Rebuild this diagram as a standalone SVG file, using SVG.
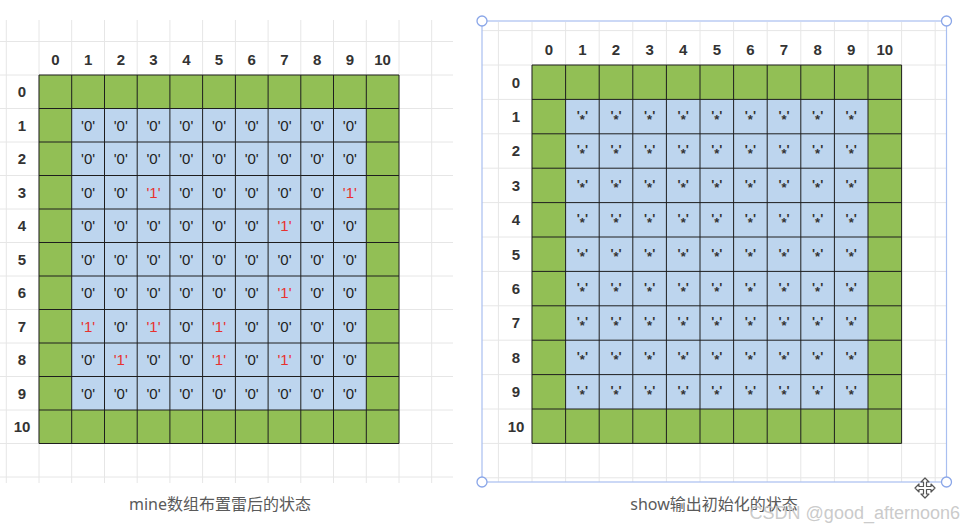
<svg xmlns="http://www.w3.org/2000/svg" width="962" height="530" viewBox="0 0 962 530">
<style>
.bg{stroke:#e6e6e6;stroke-width:1;fill:none}
.gl{stroke:#1e1e1e;stroke-width:1;fill:none}
.hd{font-family:"Liberation Sans","Noto Sans",Arial,sans-serif;font-size:15px;font-weight:bold;fill:#333;text-anchor:middle}
.z{font-family:"Liberation Sans","Noto Sans",Arial,sans-serif;font-size:15px;fill:#222;text-anchor:middle}
.r{fill:#e8312f}
.s{font-family:"Liberation Sans","Noto Sans",Arial,sans-serif;font-size:13px;font-weight:bold;fill:#333;text-anchor:middle}
.cap{font-family:"Noto Sans","Noto Sans CJK SC",sans-serif;font-size:16px;fill:#5a5a5a;text-anchor:middle}
.green{fill:#92bf55}
.blue{fill:#bdd5ee}
</style>
<defs>
<text id="st" class="s">'<tspan dy="3.5">*</tspan><tspan dy="-3.5">'</tspan></text>
</defs>
<rect width="962" height="530" fill="#ffffff"/>
<g id="left-board">
<path class="bg" d="M6.3 20V483M39 20V483M71.7 20V483M104.5 20V483M137.2 20V483M169.9 20V483M202.6 20V483M235.4 20V483M268.1 20V483M300.8 20V483M333.5 20V483M366.3 20V483M399 20V483M431.7 20V483M0 41.5H453M0 75H453M0 108.5H453M0 142H453M0 175.5H453M0 209H453M0 242.5H453M0 276H453M0 309.5H453M0 343H453M0 376.5H453M0 410H453M0 443.5H453M0 477H453"/>
<rect class="green" x="39" y="75" width="360" height="368.5"/>
<rect class="blue" x="71.7" y="108.5" width="294.6" height="301.5"/>
<path class="gl" d="M39 75V443.5M71.7 75V443.5M104.5 75V443.5M137.2 75V443.5M169.9 75V443.5M202.6 75V443.5M235.4 75V443.5M268.1 75V443.5M300.8 75V443.5M333.5 75V443.5M366.3 75V443.5M399 75V443.5M39 75H399M39 108.5H399M39 142H399M39 175.5H399M39 209H399M39 242.5H399M39 276H399M39 309.5H399M39 343H399M39 376.5H399M39 410H399M39 443.5H399"/>
<g id="left-col-labels" class="hd">
<text x="55.4" y="64.5">0</text><text x="88.1" y="64.5">1</text><text x="120.8" y="64.5">2</text><text x="153.5" y="64.5">3</text><text x="186.3" y="64.5">4</text><text x="219" y="64.5">5</text><text x="251.7" y="64.5">6</text><text x="284.5" y="64.5">7</text><text x="317.2" y="64.5">8</text><text x="349.9" y="64.5">9</text><text x="382.6" y="64.5">10</text>
</g>
<g id="left-row-labels" class="hd">
<text x="22" y="97">0</text><text x="22" y="130.5">1</text><text x="22" y="164">2</text><text x="22" y="197.5">3</text><text x="22" y="231">4</text><text x="22" y="264.5">5</text><text x="22" y="298">6</text><text x="22" y="331.5">7</text><text x="22" y="365">8</text><text x="22" y="398.5">9</text><text x="22" y="432">10</text>
</g>
<g id="left-cells" class="z">
<text x="88.1" y="130.5">'0'</text><text x="120.8" y="130.5">'0'</text><text x="153.5" y="130.5">'0'</text><text x="186.3" y="130.5">'0'</text><text x="219" y="130.5">'0'</text><text x="251.7" y="130.5">'0'</text><text x="284.5" y="130.5">'0'</text><text x="317.2" y="130.5">'0'</text><text x="349.9" y="130.5">'0'</text>
<text x="88.1" y="164">'0'</text><text x="120.8" y="164">'0'</text><text x="153.5" y="164">'0'</text><text x="186.3" y="164">'0'</text><text x="219" y="164">'0'</text><text x="251.7" y="164">'0'</text><text x="284.5" y="164">'0'</text><text x="317.2" y="164">'0'</text><text x="349.9" y="164">'0'</text>
<text x="88.1" y="197.5">'0'</text><text x="120.8" y="197.5">'0'</text><text class="r" x="153.5" y="197.5">'1'</text><text x="186.3" y="197.5">'0'</text><text x="219" y="197.5">'0'</text><text x="251.7" y="197.5">'0'</text><text x="284.5" y="197.5">'0'</text><text x="317.2" y="197.5">'0'</text><text class="r" x="349.9" y="197.5">'1'</text>
<text x="88.1" y="231">'0'</text><text x="120.8" y="231">'0'</text><text x="153.5" y="231">'0'</text><text x="186.3" y="231">'0'</text><text x="219" y="231">'0'</text><text x="251.7" y="231">'0'</text><text class="r" x="284.5" y="231">'1'</text><text x="317.2" y="231">'0'</text><text x="349.9" y="231">'0'</text>
<text x="88.1" y="264.5">'0'</text><text x="120.8" y="264.5">'0'</text><text x="153.5" y="264.5">'0'</text><text x="186.3" y="264.5">'0'</text><text x="219" y="264.5">'0'</text><text x="251.7" y="264.5">'0'</text><text x="284.5" y="264.5">'0'</text><text x="317.2" y="264.5">'0'</text><text x="349.9" y="264.5">'0'</text>
<text x="88.1" y="298">'0'</text><text x="120.8" y="298">'0'</text><text x="153.5" y="298">'0'</text><text x="186.3" y="298">'0'</text><text x="219" y="298">'0'</text><text x="251.7" y="298">'0'</text><text class="r" x="284.5" y="298">'1'</text><text x="317.2" y="298">'0'</text><text x="349.9" y="298">'0'</text>
<text class="r" x="88.1" y="331.5">'1'</text><text x="120.8" y="331.5">'0'</text><text class="r" x="153.5" y="331.5">'1'</text><text x="186.3" y="331.5">'0'</text><text class="r" x="219" y="331.5">'1'</text><text x="251.7" y="331.5">'0'</text><text x="284.5" y="331.5">'0'</text><text x="317.2" y="331.5">'0'</text><text x="349.9" y="331.5">'0'</text>
<text x="88.1" y="365">'0'</text><text class="r" x="120.8" y="365">'1'</text><text x="153.5" y="365">'0'</text><text x="186.3" y="365">'0'</text><text class="r" x="219" y="365">'1'</text><text x="251.7" y="365">'0'</text><text class="r" x="284.5" y="365">'1'</text><text x="317.2" y="365">'0'</text><text x="349.9" y="365">'0'</text>
<text x="88.1" y="398.5">'0'</text><text x="120.8" y="398.5">'0'</text><text x="153.5" y="398.5">'0'</text><text x="186.3" y="398.5">'0'</text><text x="219" y="398.5">'0'</text><text x="251.7" y="398.5">'0'</text><text x="284.5" y="398.5">'0'</text><text x="317.2" y="398.5">'0'</text><text x="349.9" y="398.5">'0'</text>
</g>
<text id="left-caption" class="cap" x="220" y="510">mine数组布置雷后的状态</text>
</g>
<g id="right-board">
<path class="bg" d="M498.4 22V482M532 22V482M565.6 22V482M599.2 22V482M632.8 22V482M666.4 22V482M700 22V482M733.6 22V482M767.2 22V482M800.8 22V482M834.4 22V482M868 22V482M901.6 22V482M935.2 22V482M482 30.6H946M482 65H946M482 99.4H946M482 133.8H946M482 168.2H946M482 202.6H946M482 237H946M482 271.4H946M482 305.8H946M482 340.2H946M482 374.6H946M482 409H946M482 443.4H946M482 477.8H946"/>
<rect class="green" x="532" y="65" width="369.6" height="378.4"/>
<rect class="blue" x="565.6" y="99.4" width="302.4" height="309.6"/>
<path class="gl" d="M532 65V443.4M565.6 65V443.4M599.2 65V443.4M632.8 65V443.4M666.4 65V443.4M700 65V443.4M733.6 65V443.4M767.2 65V443.4M800.8 65V443.4M834.4 65V443.4M868 65V443.4M901.6 65V443.4M532 65H901.6M532 99.4H901.6M532 133.8H901.6M532 168.2H901.6M532 202.6H901.6M532 237H901.6M532 271.4H901.6M532 305.8H901.6M532 340.2H901.6M532 374.6H901.6M532 409H901.6M532 443.4H901.6"/>
<g id="right-col-labels" class="hd">
<text x="548.8" y="54.5">0</text><text x="582.4" y="54.5">1</text><text x="616" y="54.5">2</text><text x="649.6" y="54.5">3</text><text x="683.2" y="54.5">4</text><text x="716.8" y="54.5">5</text><text x="750.4" y="54.5">6</text><text x="784" y="54.5">7</text><text x="817.6" y="54.5">8</text><text x="851.2" y="54.5">9</text><text x="884.8" y="54.5">10</text>
</g>
<g id="right-row-labels" class="hd">
<text x="516" y="87.5">0</text><text x="516" y="122">1</text><text x="516" y="156.4">2</text><text x="516" y="190.8">3</text><text x="516" y="225.2">4</text><text x="516" y="259.6">5</text><text x="516" y="294">6</text><text x="516" y="328.4">7</text><text x="516" y="362.8">8</text><text x="516" y="397.2">9</text><text x="516" y="431.6">10</text>
</g>
<g id="right-cells">
<g id="srow1" transform="translate(0 120)">
<use href="#st" x="582.4"/><use href="#st" x="616"/><use href="#st" x="649.6"/><use href="#st" x="683.2"/><use href="#st" x="716.8"/><use href="#st" x="750.4"/><use href="#st" x="784"/><use href="#st" x="817.6"/><use href="#st" x="851.2"/>
</g>
<use href="#srow1" y="34.4"/><use href="#srow1" y="68.8"/><use href="#srow1" y="103.2"/><use href="#srow1" y="137.6"/><use href="#srow1" y="172"/><use href="#srow1" y="206.4"/><use href="#srow1" y="240.8"/><use href="#srow1" y="275.2"/>
</g>
<g id="selection">
<rect x="482" y="21" width="464.5" height="461" fill="none" stroke="#a9bff0" stroke-width="1.2"/>
<circle cx="482" cy="21" r="5" fill="#fff" stroke="#8aa6e8" stroke-width="1.3"/>
<circle cx="946.5" cy="21" r="5" fill="#fff" stroke="#8aa6e8" stroke-width="1.3"/>
<circle cx="482" cy="482" r="5" fill="#fff" stroke="#8aa6e8" stroke-width="1.3"/>
<circle cx="946.5" cy="482" r="5" fill="#fff" stroke="#8aa6e8" stroke-width="1.3"/>
</g>
<text id="right-caption" class="cap" x="714" y="510">show输出初始化的状态</text>
</g>
<g id="move-cursor" transform="translate(925 488)">
<path d="M0 -10 L4 -6 H1.5 V-1.5 H6 V-4 L10 0 L6 4 V1.5 H1.5 V6 H4 L0 10 L-4 6 H-1.5 V1.5 H-6 V4 L-10 0 L-6 -4 V-1.5 H-1.5 V-6 H-4 Z" fill="#fff" stroke="#555" stroke-width="1.2" stroke-linejoin="round"/>
</g>
<text id="watermark" x="960" y="519" font-family="'Liberation Sans','Noto Sans',Arial,sans-serif" font-size="18" fill="#c4c4c4" fill-opacity="0.9" text-anchor="end">CSDN @good_afternoon6</text>
</svg>
